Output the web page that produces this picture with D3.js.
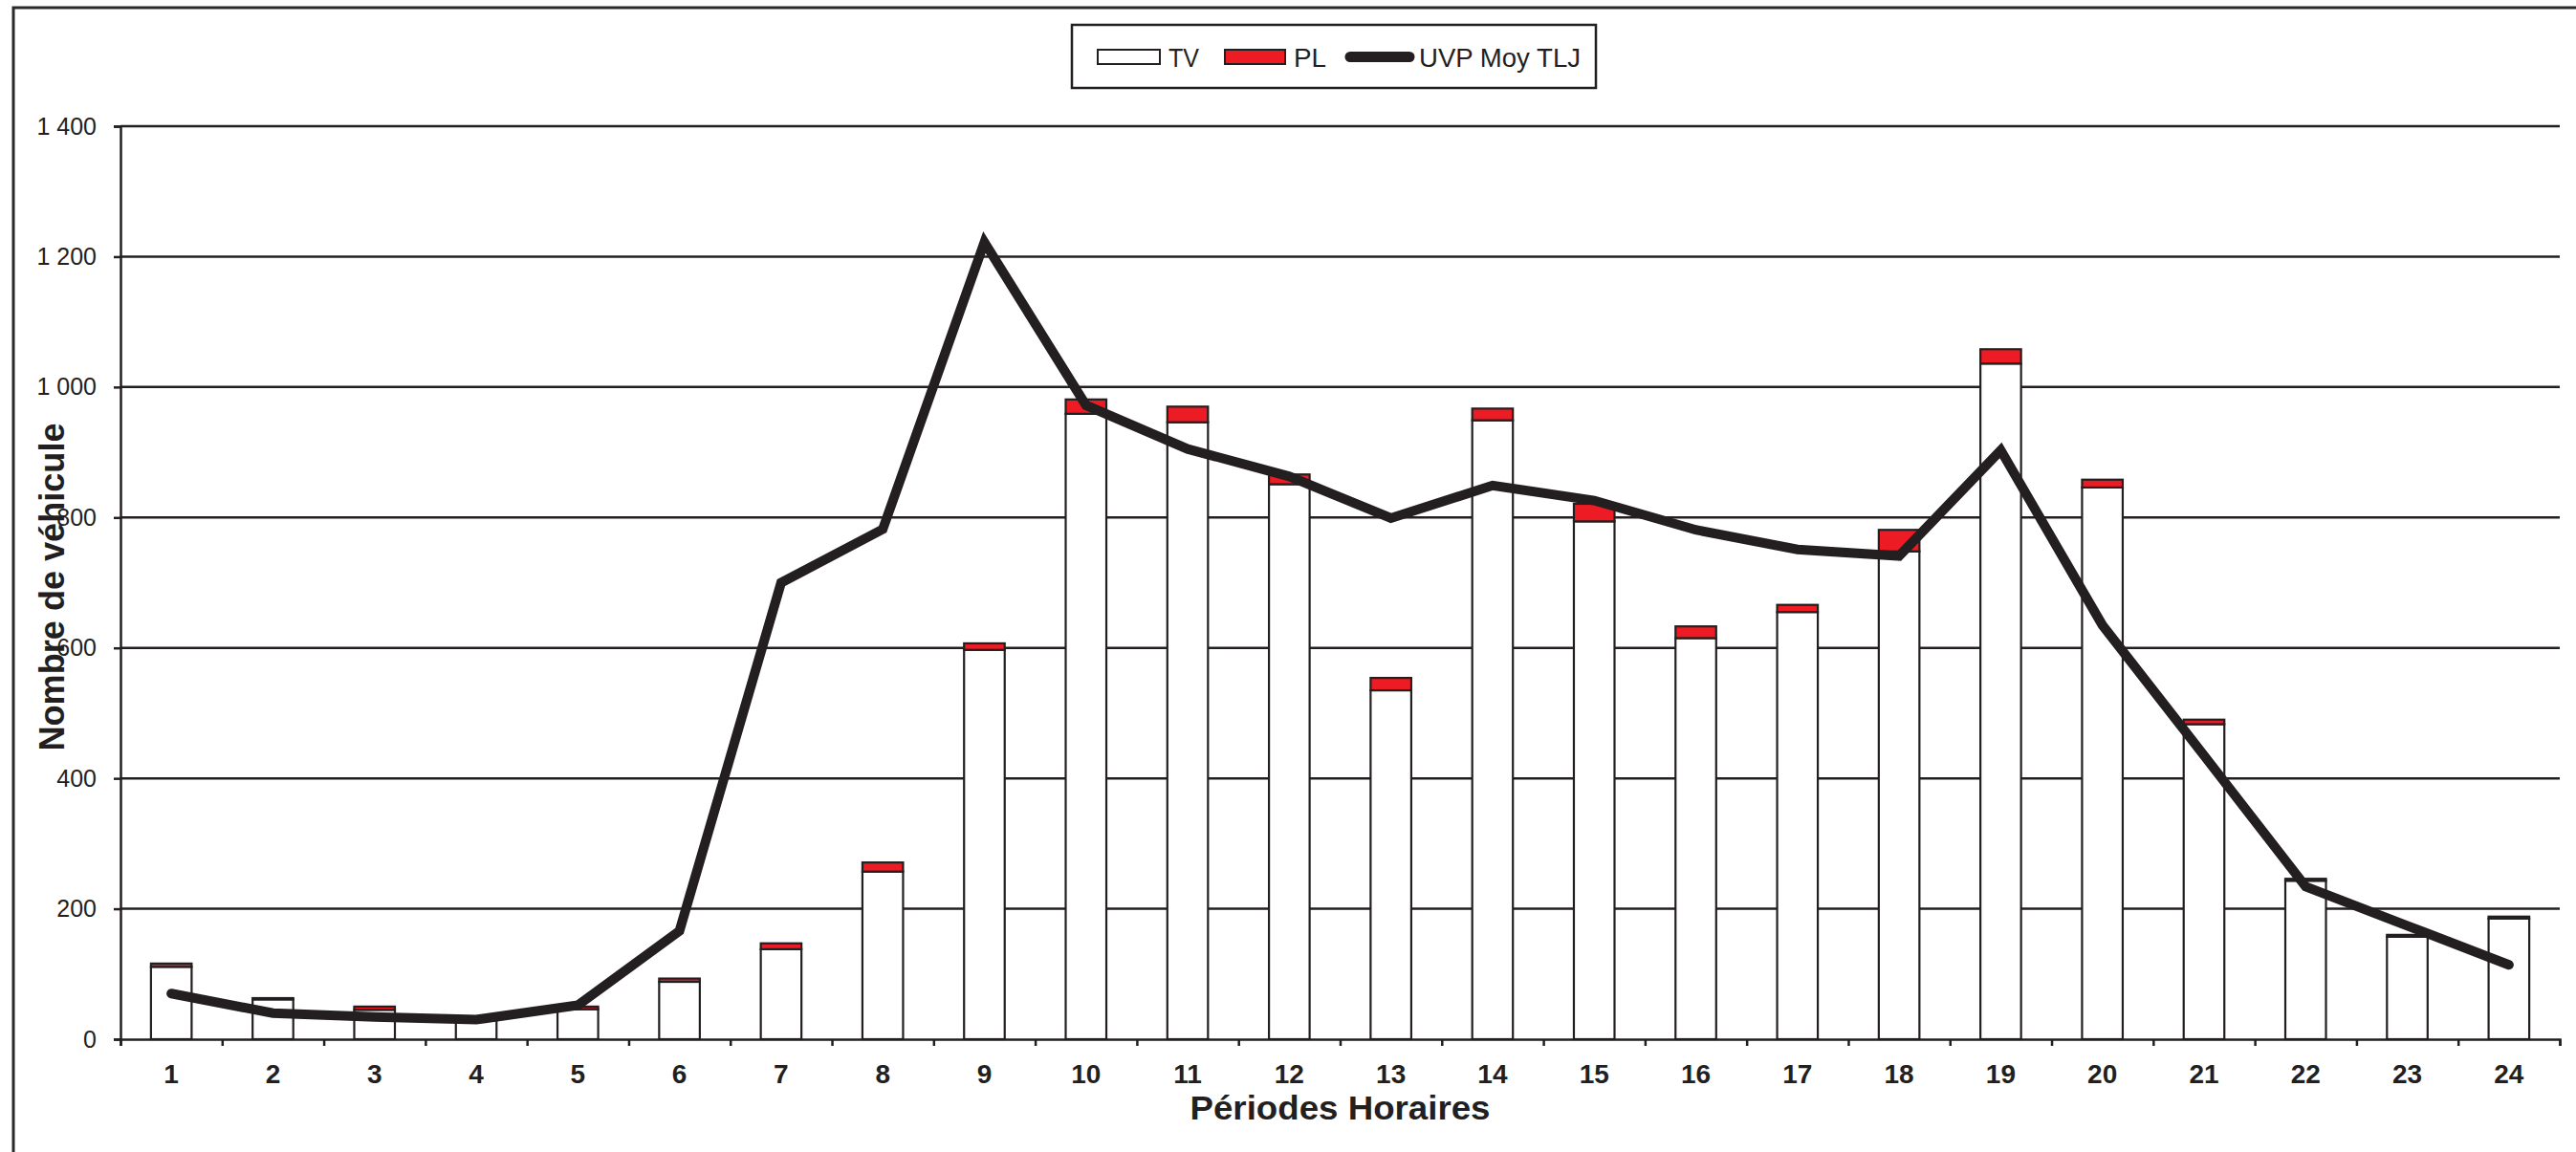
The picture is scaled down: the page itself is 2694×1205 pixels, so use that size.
<!DOCTYPE html>
<html lang="fr">
<head>
<meta charset="utf-8">
<title>Périodes Horaires</title>
<script src="https://cdn.jsdelivr.net/npm/d3@7"></script>
<style>
  html, body { margin: 0; padding: 0; background: #ffffff; }
  svg { display: block; }
  text { font-family: "Liberation Sans", Arial, sans-serif; fill: #231f20; }
</style>
</head>
<body>
<svg id="chart" width="2694" height="1205"></svg>
<script>
// Hourly periods
const periods = ["1","2","3","4","5","6","7","8","9","10","11","12",
                 "13","14","15","16","17","18","19","20","21","22","23","24"];

// Light vehicles (TV) per period
const tvValues = [111, 61, 45, 29, 46, 88, 138, 257, 597, 959, 946, 851,
                  535, 949, 794, 615, 655, 748, 1036, 846, 483, 243, 157, 185];

// Heavy vehicles (PL) per period, stacked on top of TV
const plValues = [5, 2, 5, 2, 4, 5, 9, 14, 10, 22, 24, 15,
                  19, 18, 27, 18, 11, 33, 22, 12, 7, 3, 3, 3];

// Average passenger-car units, all days (UVP Moy TLJ)
const uvpValues = [70, 40, 34, 30, 52, 166, 700, 782, 1222, 972, 905, 863,
                   799, 849, 826, 781, 751, 741, 903, 635, 435, 234, 174, 114];

// Y axis tick values
const yTicks = [0, 200, 400, 600, 800, 1000, 1200, 1400];

// Legend entries
const legendLabels = ["TV", "PL", "UVP Moy TLJ"];

const INK = "#231f20";
const RED = "#ed1c24";

const svg = d3.select("#chart");

// Outer frame (right and bottom edges fall outside the page)
svg.append("rect")
  .attr("x", 14).attr("y", 8)
  .attr("width", 2720).attr("height", 1240)
  .attr("fill", "#ffffff")
  .attr("stroke", "#2a2a2a")
  .attr("stroke-width", 3);

const plot = { left: 126, right: 2677, top: 132, bottom: 1087 };

const x = d3.scaleBand()
  .domain(periods)
  .range([plot.left, plot.right])
  .paddingInner(0)
  .paddingOuter(0);

const barWidth = x.step() * 0.4;
const xc = d => x(d) + x.bandwidth() / 2;

const y = d3.scaleLinear()
  .domain([0, 1400])
  .range([plot.bottom, plot.top]);

const frLocale = d3.formatLocale({
  decimal: ",", thousands: " ", grouping: [3], currency: ["", " €"]
});
const fmt = frLocale.format(",d");

// Horizontal gridlines
svg.append("g")
  .selectAll("line")
  .data(yTicks.filter(v => v > 0))
  .join("line")
  .attr("x1", plot.left).attr("x2", plot.right)
  .attr("y1", d => y(d)).attr("y2", d => y(d))
  .attr("stroke", INK)
  .attr("stroke-width", 2.5);

// Stacked bars: TV at the base, PL on top
const stacked = periods.map((p, i) => ({
  p, tv: tvValues[i], pl: plValues[i]
}));

const bars = svg.append("g");
bars.selectAll("rect.tv")
  .data(stacked)
  .join("rect")
  .attr("class", "tv")
  .attr("x", d => xc(d.p) - barWidth / 2)
  .attr("width", barWidth)
  .attr("y", d => y(d.tv))
  .attr("height", d => y(0) - y(d.tv))
  .attr("fill", "#ffffff")
  .attr("stroke", INK)
  .attr("stroke-width", 2.2);

bars.selectAll("rect.pl")
  .data(stacked)
  .join("rect")
  .attr("class", "pl")
  .attr("x", d => xc(d.p) - barWidth / 2)
  .attr("width", barWidth)
  .attr("y", d => y(d.tv + d.pl))
  .attr("height", d => y(d.tv) - y(d.tv + d.pl))
  .attr("fill", RED)
  .attr("stroke", INK)
  .attr("stroke-width", 2.2);

// Y axis
const yAxis = svg.append("g")
  .attr("transform", `translate(${plot.left},0)`)
  .call(d3.axisLeft(y).tickValues(yTicks).tickSize(7).tickPadding(18).tickFormat(fmt));
yAxis.select(".domain").attr("stroke", INK).attr("stroke-width", 2.5);
yAxis.selectAll(".tick line").attr("stroke", INK).attr("stroke-width", 2.5);
yAxis.selectAll(".tick text")
  .attr("font-family", "'Liberation Sans', Arial, sans-serif")
  .attr("font-size", 25)
  .attr("fill", INK);

// X axis: ticks on category boundaries
const xBound = d3.scaleLinear().domain([0, periods.length]).range([plot.left, plot.right]);
const xAxis = svg.append("g")
  .attr("transform", `translate(0,${plot.bottom})`)
  .call(d3.axisBottom(xBound).tickValues(d3.range(0, periods.length + 1)).tickSize(7).tickFormat(""));
xAxis.select(".domain").attr("stroke", INK).attr("stroke-width", 2.5);
xAxis.selectAll(".tick line").attr("stroke", INK).attr("stroke-width", 2.5);

// X category labels at band centers
const xLabels = svg.append("g")
  .attr("transform", `translate(0,${plot.bottom})`)
  .call(d3.axisBottom(x).tickSize(0).tickPadding(0));
xLabels.select(".domain").remove();
xLabels.selectAll(".tick text")
  .attr("y", 46)
  .attr("dy", 0)
  .attr("font-family", "'Liberation Sans', Arial, sans-serif")
  .attr("font-size", 28)
  .attr("font-weight", "bold")
  .attr("fill", INK);

// UVP line
const line = d3.line()
  .x((d, i) => xc(periods[i]))
  .y(d => y(d));

svg.append("path")
  .datum(uvpValues)
  .attr("d", line)
  .attr("fill", "none")
  .attr("stroke", INK)
  .attr("stroke-width", 10)
  .attr("stroke-linecap", "round")
  .attr("stroke-linejoin", "miter")
  .attr("stroke-miterlimit", 4);

// Axis titles
svg.append("text")
  .attr("x", (plot.left + plot.right) / 2)
  .attr("y", 1171)
  .attr("text-anchor", "middle")
  .attr("font-size", 35)
  .attr("font-weight", "bold")
  .attr("textLength", 314)
  .attr("lengthAdjust", "spacingAndGlyphs")
  .text("Périodes Horaires");

svg.append("text")
  .attr("transform", "translate(67,614) rotate(-90)")
  .attr("text-anchor", "middle")
  .attr("font-size", 36)
  .attr("font-weight", "bold")
  .attr("textLength", 343)
  .attr("lengthAdjust", "spacingAndGlyphs")
  .text("Nombre de véhicule");

// Legend
const legend = svg.append("g");
legend.append("rect")
  .attr("x", 1121).attr("y", 26)
  .attr("width", 548).attr("height", 66)
  .attr("fill", "#ffffff")
  .attr("stroke", INK)
  .attr("stroke-width", 2.5);

legend.append("rect")
  .attr("x", 1148).attr("y", 52).attr("width", 65).attr("height", 15)
  .attr("fill", "#ffffff").attr("stroke", INK).attr("stroke-width", 2);
legend.append("rect")
  .attr("x", 1281).attr("y", 52).attr("width", 63).attr("height", 15)
  .attr("fill", RED).attr("stroke", INK).attr("stroke-width", 2);
legend.append("line")
  .attr("x1", 1412).attr("x2", 1474).attr("y1", 59.5).attr("y2", 59.5)
  .attr("stroke", INK).attr("stroke-width", 11).attr("stroke-linecap", "round");

const legendX = [1222, 1353, 1484];
const legendW = [32, 34, 169];
legend.selectAll("text")
  .data(legendLabels)
  .join("text")
  .attr("x", (d, i) => legendX[i])
  .attr("y", 70)
  .attr("font-size", 28)
  .attr("textLength", (d, i) => legendW[i])
  .attr("lengthAdjust", "spacingAndGlyphs")
  .text(d => d);
</script>
</body>
</html>
